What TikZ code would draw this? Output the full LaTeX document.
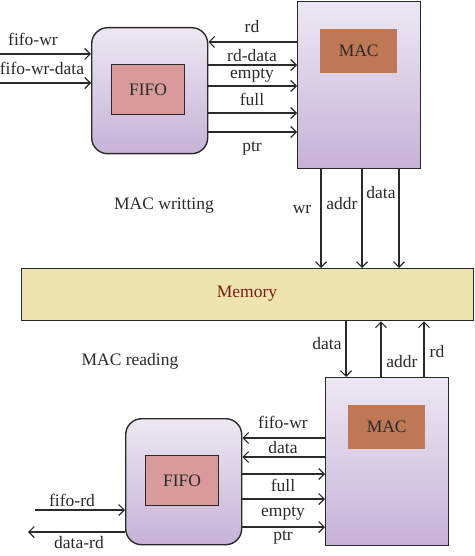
\documentclass[tikz,border=0pt]{standalone}
\usepackage{fontspec}
\setmainfont{Liberation Serif}
\usetikzlibrary{arrows.meta}
\definecolor{boxtop}{HTML}{EEE7F3}
\definecolor{boxbot}{HTML}{C6B2D6}
\definecolor{fifofill}{HTML}{D99A9A}
\definecolor{macfill}{HTML}{BF7856}
\definecolor{memfill}{HTML}{EEE4AE}
\definecolor{memtext}{HTML}{7A1E14}
\definecolor{ink}{HTML}{2A2A2A}
\begin{document}
\begin{tikzpicture}[x=1pt,y=-1pt,
  outer/.style={draw=ink, line width=1.4pt, top color=boxtop, bottom color=boxbot, anchor=north west, inner sep=0pt},
  fifobox/.style={outer, rounded corners=16pt, minimum width=116pt, minimum height=126pt},
  macbox/.style={outer, minimum width=123pt, minimum height=167pt},
  fifoin/.style={draw=ink, line width=1.3pt, fill=fifofill, anchor=north west, inner sep=0pt, minimum width=73pt, minimum height=50pt, text=ink, font=\fontsize{17.5}{19}\selectfont},
  macin/.style={fill=macfill, anchor=north west, inner sep=0pt, minimum width=77pt, minimum height=44pt, text=ink, font=\fontsize{17.5}{19}\selectfont},
  lab/.style={anchor=base, inner sep=0pt, text=ink, font=\fontsize{17.5}{19}\selectfont},
  arr/.style={draw=ink, line width=1.1pt, -{Straight Barb[length=5.5pt,width=11pt]}}
]
\useasboundingbox (0,0) rectangle (474,556);

% ---- top part (MAC writing) ----
\node[fifobox] (fifo1) at (91,27) {};
\node[fifoin] (fifoin1) at (111,64) {FIFO};
\node[macbox] (mac1) at (297,1) {};
\node[macin] (macin1) at (320,29) {MAC};

\coordinate (fwr1) at (0,54);
\coordinate (fwrd1) at (0,83);
\draw[arr] (fwr1) -- (fifo1.west |- fwr1);
\draw[arr] (fwrd1) -- (fifo1.west |- fwrd1);
\node[lab] (l-fwr1) at (33,46) {fifo-wr};
\node[lab] (l-fwrd1) at (42,75) {fifo-wr-data};

\draw[arr] (mac1.west |- 0,42) -- (fifo1.east |- 0,42);
\draw[arr] (fifo1.east |- 0,65) -- (mac1.west |- 0,65);
\draw[arr] (fifo1.east |- 0,86) -- (mac1.west |- 0,86);
\draw[arr] (fifo1.east |- 0,113) -- (mac1.west |- 0,113);
\draw[arr] (fifo1.east |- 0,132) -- (mac1.west |- 0,132);
\node[lab] (l-rd1) at (252,33) {rd};
\node[lab] (l-rdd1) at (252,62) {rd-data};
\node[lab] (l-emp1) at (252,79) {empty};
\node[lab] (l-full1) at (252,106) {full};
\node[lab] (l-ptr1) at (252,152) {ptr};

\node[lab] (l-macw) at (164,209) {MAC writting};

% ---- memory ----
\node[draw=ink, line width=1.4pt, fill=memfill, anchor=north west, inner sep=0pt, minimum width=452pt, minimum height=52pt] (mem) at (21,268) {};
\node[lab, text=memtext] (l-mem) at (247,297) {Memory};

\draw[arr] (mac1.south -| 321,0) -- (mem.north -| 321,0);
\draw[arr] (mac1.south -| 362,0) -- (mem.north -| 362,0);
\draw[arr] (mac1.south -| 399,0) -- (mem.north -| 399,0);
\node[lab] (l-wr) at (302,213) {wr};
\node[lab] (l-addr1) at (342,209) {addr};
\node[lab] (l-data1) at (381,198) {data};

% ---- bottom part (MAC reading) ----
\node[fifobox] (fifo2) at (125,418) {};
\node[fifoin] (fifoin2) at (145,455) {FIFO};
\node[macbox, minimum height=168pt] (mac2) at (325,377) {};
\node[macin] (macin2) at (348,405) {MAC};

\draw[arr] (mem.south -| 346,0) -- (mac2.north -| 346,0);
\draw[arr] (mac2.north -| 381,0) -- (mem.south -| 381,0);
\draw[arr] (mac2.north -| 424,0) -- (mem.south -| 424,0);
\node[lab] (l-data2) at (327,349) {data};
\node[lab] (l-addr2) at (402,367) {addr};
\node[lab] (l-rd2) at (437,357) {rd};
\node[lab] (l-macr) at (130,365) {MAC reading};

\draw[arr] (mac2.west |- 0,438) -- (fifo2.east |- 0,438);
\draw[arr] (mac2.west |- 0,457) -- (fifo2.east |- 0,457);
\draw[arr] (fifo2.east |- 0,474) -- (mac2.west |- 0,474);
\draw[arr] (fifo2.east |- 0,499) -- (mac2.west |- 0,499);
\draw[arr] (fifo2.east |- 0,527) -- (mac2.west |- 0,527);
\node[lab] (l-fwr2) at (283,428) {fifo-wr};
\node[lab] (l-data3) at (283,453) {data};
\node[lab] (l-full2) at (283,491) {full};
\node[lab] (l-emp2) at (283,516) {empty};
\node[lab] (l-ptr2) at (283,540) {ptr};

\coordinate (frd) at (35,510);
\coordinate (drd) at (28,532);
\draw[arr] (frd) -- (fifo2.west |- frd);
\draw[arr] (fifo2.west |- drd) -- (drd);
\node[lab] (l-frd) at (72,506) {fifo-rd};
\node[lab] (l-drd) at (79,548) {data-rd};
\end{tikzpicture}
\end{document}
